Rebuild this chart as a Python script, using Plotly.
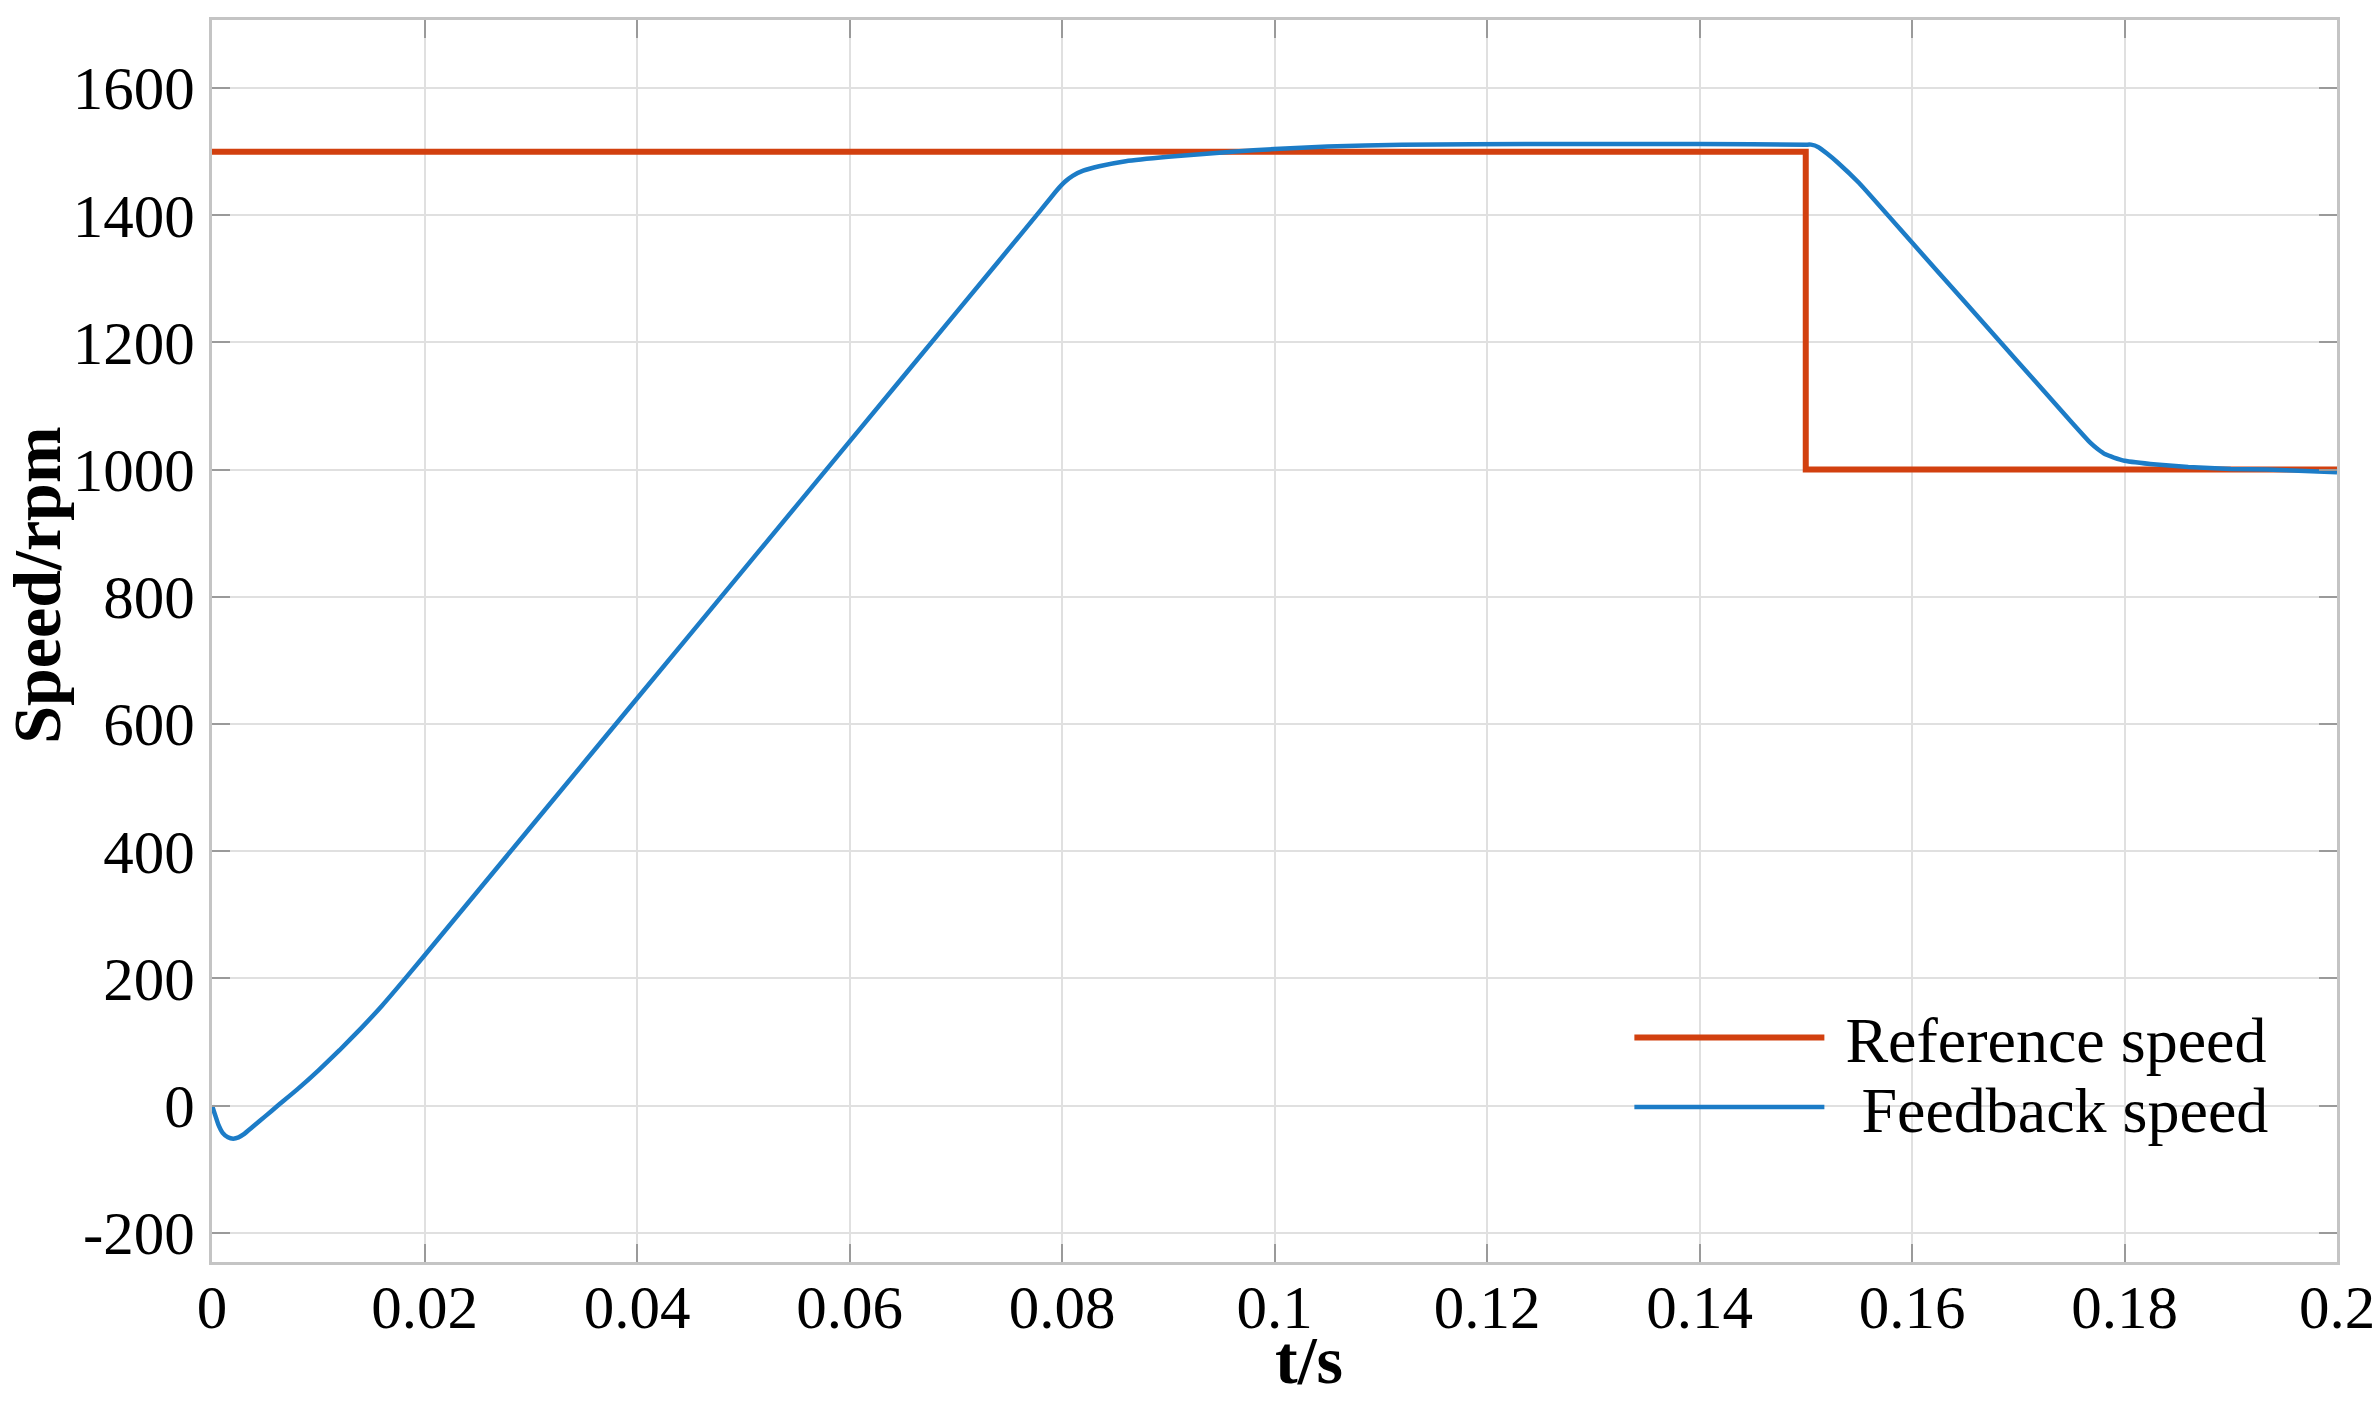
import plotly.graph_objects as go

# Reference speed (step command)
ref_t = [0.0, 0.15, 0.15, 0.2]
ref_v = [1500, 1500, 1000, 1000]

# Feedback speed
fb_t = [0.0, 0.0003, 0.0006, 0.001, 0.0015, 0.002, 0.0025, 0.003, 0.0035, 0.004,
        0.005, 0.0062, 0.008, 0.010, 0.012, 0.014, 0.016, 0.018, 0.020, 0.030,
        0.040, 0.050, 0.060, 0.070, 0.078, 0.0795, 0.0803, 0.081, 0.082, 0.0835,
        0.086, 0.090, 0.093, 0.096, 0.100, 0.105, 0.112, 0.125, 0.140, 0.150,
        0.1505, 0.1512, 0.152, 0.153, 0.155, 0.160, 0.165, 0.170, 0.175, 0.1768,
        0.1775, 0.1782, 0.179, 0.180, 0.183, 0.186, 0.190, 0.1934, 0.197, 0.2]
fb_v = [0, -15, -30, -43, -50, -52, -50, -45, -38, -31,
        -17, 0, 25, 55, 87, 121, 157, 196, 236, 438,
        640, 842, 1044, 1246, 1408, 1439, 1453, 1462, 1470, 1477,
        1485, 1492, 1496, 1500, 1504, 1508, 1511, 1512, 1512, 1511,
        1511, 1507, 1497, 1483, 1451, 1357, 1263, 1169, 1075, 1042,
        1032, 1024, 1019, 1014, 1008, 1004, 1001, 1000, 998, 996]

x_ticks = [0, 0.02, 0.04, 0.06, 0.08, 0.1, 0.12, 0.14, 0.16, 0.18, 0.2]
x_labels = ["0", "0.02", "0.04", "0.06", "0.08", "0.1", "0.12", "0.14", "0.16", "0.18", "0.2"]
y_ticks = [-200, 0, 200, 400, 600, 800, 1000, 1200, 1400, 1600]
y_labels = ["-200", "0", "200", "400", "600", "800", "1000", "1200", "1400", "1600"]

FONT = "Liberation Serif"
NB = "\u00a0"

fig = go.Figure()
fig.add_trace(go.Scatter(x=ref_t, y=ref_v, mode="lines", name=NB + "Reference speed",
                         line=dict(color="#D2400F", width=6), legend="legend"))
fig.add_trace(go.Scatter(x=fb_t, y=fb_v, mode="lines", name=NB + NB + "Feedback speed",
                         line=dict(color="#1C7CC7", width=4.5, shape="spline", smoothing=0.4),
                         legend="legend2"))

axis_common = dict(showline=True, linecolor="#c4c4c4", linewidth=3, mirror="ticks",
                   ticks="inside", ticklen=18, tickwidth=2, tickcolor="#9a9a9a",
                   showgrid=True, gridcolor="#e0e0e0", gridwidth=2, zeroline=False,
                   ticklabeloverflow="allow",
                   tickfont=dict(family=FONT, size=61, color="black"))

fig.update_xaxes(range=[0, 0.2], tickvals=x_ticks, ticktext=x_labels, ticklabelstandoff=-10,
                 **axis_common)
fig.update_yaxes(range=[-246, 1707], tickvals=y_ticks, ticktext=y_labels, ticklabelstandoff=2,
                 **axis_common)

fig.add_annotation(text="<b>Speed/rpm</b>", xref="paper", yref="paper",
                   x=-0.0825, y=0.545, xanchor="center", yanchor="middle",
                   textangle=-90, showarrow=False,
                   font=dict(family=FONT, size=68, color="black"))
fig.add_annotation(text="<b>t/s</b>", xref="paper", yref="paper",
                   x=0.516, y=-0.079, xanchor="center", yanchor="middle",
                   showarrow=False, font=dict(family=FONT, size=68, color="black"))

legend_common = dict(xanchor="left", yanchor="middle", bgcolor="rgba(0,0,0,0)",
                     borderwidth=0, font=dict(family=FONT, size=64, color="black"),
                     itemwidth=190)

fig.update_layout(
    width=2380, height=1402,
    margin=dict(l=212, r=43, t=20, b=140, autoexpand=False),
    paper_bgcolor="white", plot_bgcolor="white",
    showlegend=True,
    legend=dict(x=0.667, y=0.1805, **legend_common),
    legend2=dict(x=0.667, y=0.1245, **legend_common),
)

fig.write_html("out.html", config={"displayModeBar": False},
               post_script="document.body.style.margin='0';")
